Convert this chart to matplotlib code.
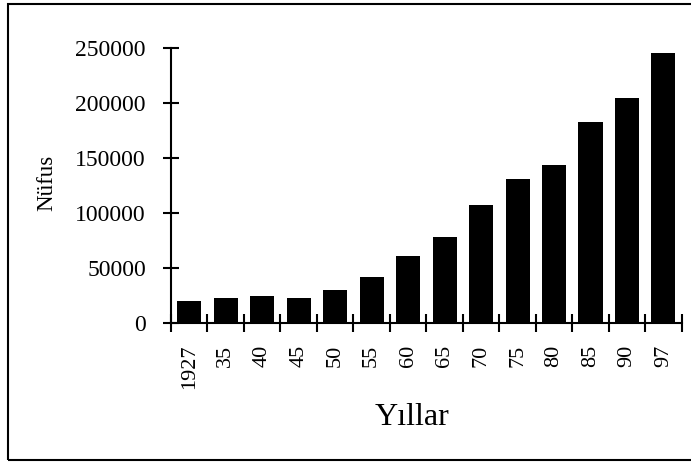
import matplotlib
matplotlib.use("Agg")
import matplotlib.pyplot as plt
from matplotlib.patches import Rectangle
import numpy as np

years = ["1927", "35", "40", "45", "50", "55", "60", "65", "70", "75", "80", "85", "90", "97"]
population = [19500, 22500, 24500, 22500, 29500, 41500, 61000, 78000, 107000, 131000, 143500, 182000, 204000, 245000]
yticks = [0, 50000, 100000, 150000, 200000, 250000]

plt.rcParams['font.family'] = ['Liberation Serif', 'DejaVu Serif']

W, H = 691, 463
fig = plt.figure(figsize=(W / 100, H / 100), dpi=100)
ax = fig.add_axes([171 / W, 1 - 322.7 / H, (681.7 - 171) / W, (322.7 - 47.7) / H])

x = np.arange(len(years))
ax.bar(x, population, width=0.66, color='black', edgecolor='none')

ax.set_xlim(-0.5, len(years) - 0.5)
ax.set_ylim(0, 250000)
ax.set_yticks(yticks)
ax.set_yticklabels([str(v) for v in yticks], fontsize=17)
ax.set_xticks(x)
ax.set_xticklabels(years, rotation=90, fontsize=16)
ax.set_xticks(np.arange(-0.5, len(years), 1.0), minor=True)

ax.tick_params(axis='y', direction='inout', length=12, width=1.5, pad=12)
ax.tick_params(axis='x', which='major', length=0, pad=16)
ax.tick_params(axis='x', which='minor', direction='inout', length=13, width=1.5)

for s in ['top', 'right']:
    ax.spines[s].set_visible(False)
for s in ['left', 'bottom']:
    ax.spines[s].set_linewidth(1.5)

fig.text(411.7 / W, 1 - 425 / H, "Yıllar", fontsize=23, ha='center', va='baseline')
fig.text(47 / W, 1 - 183 / H, "Nüfus", fontsize=16.5, rotation=90, ha='center', va='center')

fig.patches.append(Rectangle((8 / W, 1 - 460 / H), 1.2, (460 - 3.5) / H,
                             transform=fig.transFigure, fill=False,
                             edgecolor='black', linewidth=1.5))

fig.savefig("out.png", dpi=100)
